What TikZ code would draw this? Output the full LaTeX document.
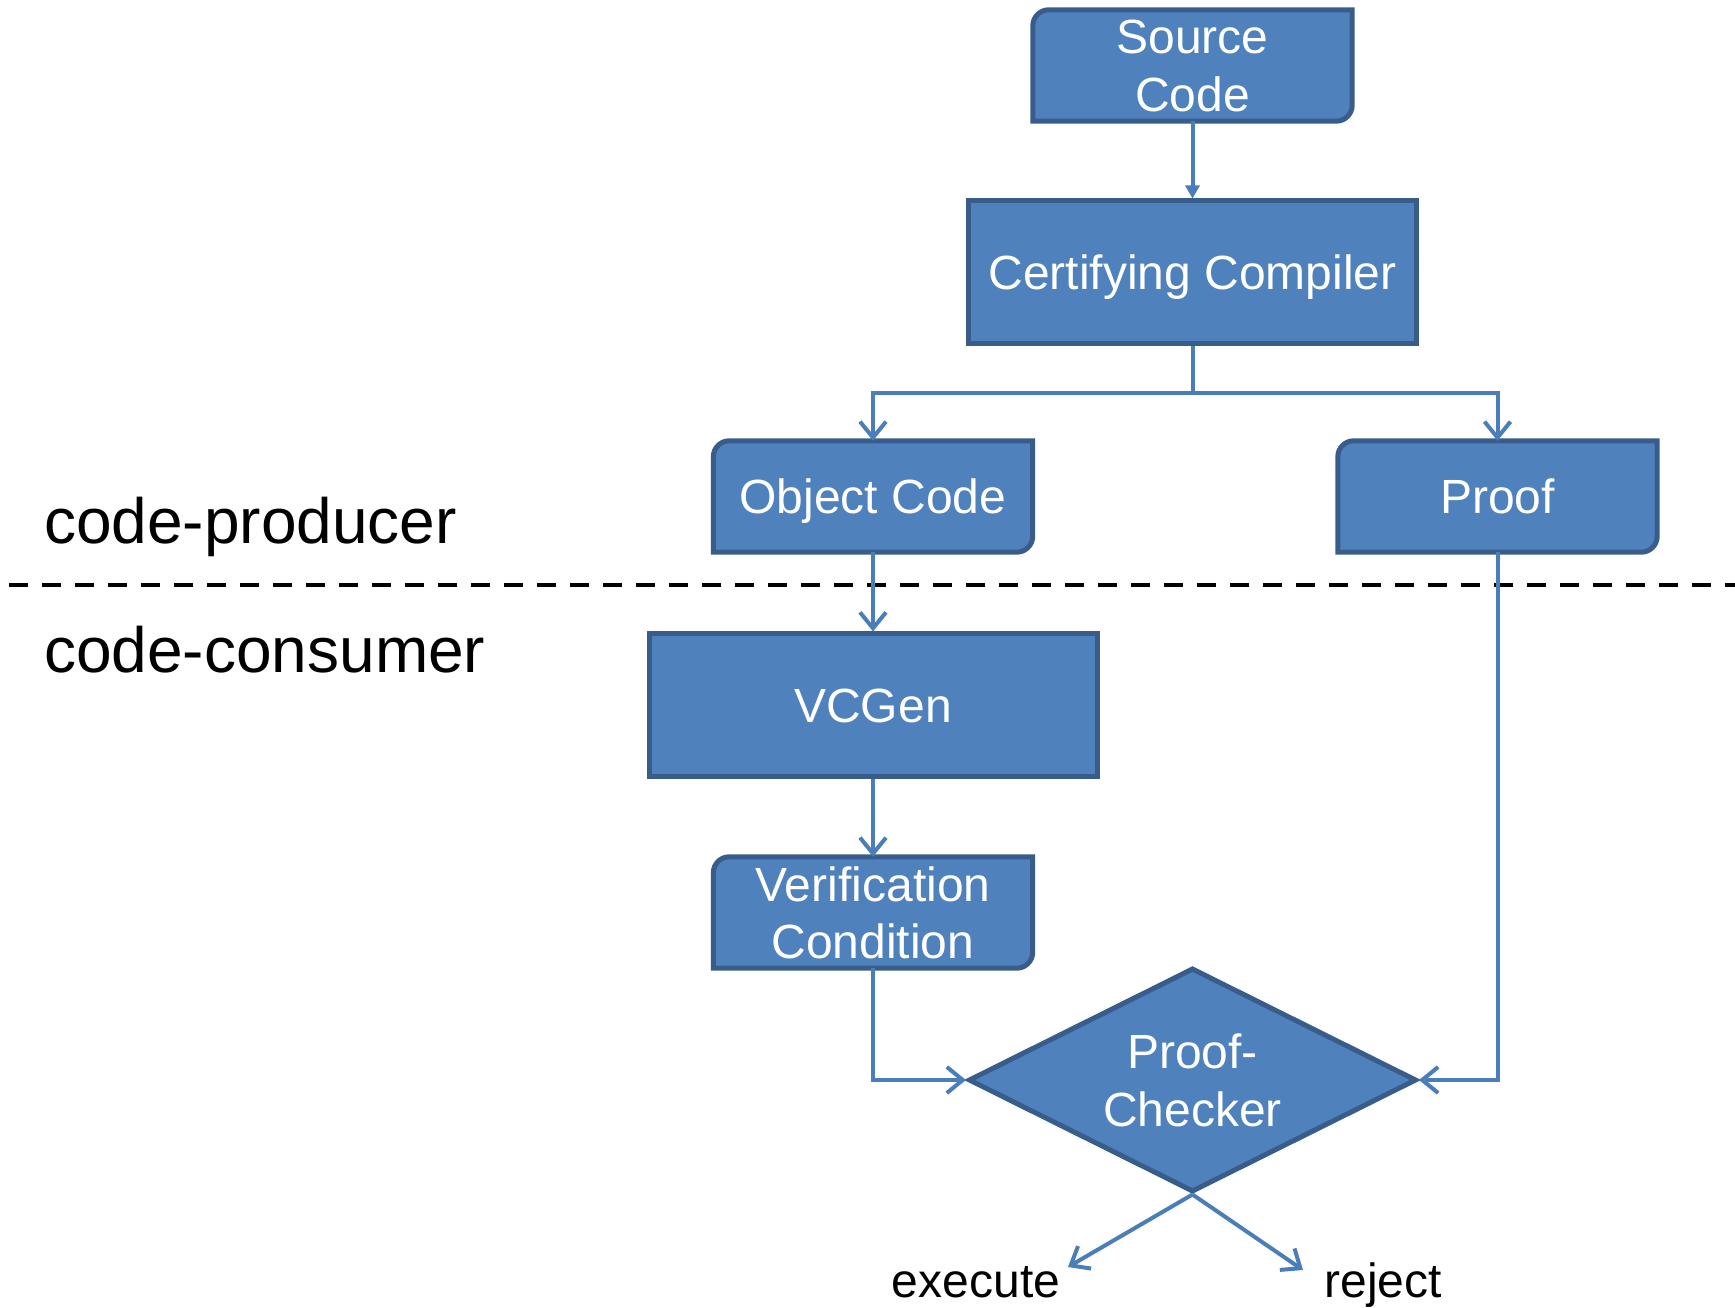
\documentclass[tikz,border=0pt]{standalone}
\usepackage{fontspec}
\setmainfont{Liberation Sans}
\usetikzlibrary{arrows.meta,shapes.geometric,calc}

\pgfdeclarelayer{shapes}
\pgfsetlayers{shapes,main}

\definecolor{boxfill}{HTML}{4F81BD}
\definecolor{boxedge}{HTML}{385D8A}
\definecolor{flow}{HTML}{4A7EBB}

\tikzset{
  boxtext/.style={font=\fontsize{48}{57.6}\selectfont, text=white, align=center,
                  inner sep=0pt, text depth=0pt},
  docbox/.style={boxtext, minimum width=319pt, minimum height=111pt},
  procbox/.style={boxtext, draw=boxedge, fill=boxfill, line width=5pt,
                  minimum width=448pt, minimum height=143pt},
  decision/.style={boxtext, diamond, shape aspect=2, draw=boxedge, fill=boxfill,
                   line width=5pt, minimum width=448pt, minimum height=224pt},
  flowline/.style={draw=flow, line width=4pt, -{Straight Barb[length=16pt,width=26pt]}},
  feedline/.style={draw=flow, line width=4pt, -{Triangle[length=13pt,width=14pt]}},
  sidelabel/.style={font=\fontsize{64}{76}\selectfont, inner sep=0pt},
  outlabel/.style={font=\fontsize{48}{57.6}\selectfont, inner sep=0pt},
}

% document-style frame: rounded top-left and bottom-right corners
\newcommand\docframe[1]{%
  \begin{pgfonlayer}{shapes}
    \filldraw[fill=boxfill, draw=boxedge, line width=5pt]
      (#1.south west) -- ([yshift=-16pt]#1.north west)
      arc[start angle=180, end angle=90, radius=16pt]
      -- (#1.north east) -- ([yshift=16pt]#1.south east)
      arc[start angle=0, end angle=-90, radius=16pt] -- cycle;
  \end{pgfonlayer}}

\begin{document}
\begin{tikzpicture}[x=1pt, y=1pt]
  \useasboundingbox (0,0) rectangle (1735,1307);

  % producer / consumer boundary
  \coordinate (sepL) at (9,722);
  \coordinate (sepR) at (1735,722);
  \draw[black, line width=4pt, dash pattern=on 19pt off 14pt] (sepL) -- (sepR);

  \node[sidelabel, anchor=base west] (prod) at (44,763) {code-producer};
  \node[sidelabel, anchor=base west] (cons) at (44,634) {code-consumer};

  % producer side
  \node[docbox] (src) at (1192.5,1241.5) {Source\\Code};
  \docframe{src}
  \node[procbox] (comp) at (1192.5,1034.5) {Certifying Compiler};
  \node[docbox] (obj) at (873,810.5) {Object Code};
  \docframe{obj}
  \node[docbox] (proof) at (1497.5,810.5) {Proof};
  \docframe{proof}

  % consumer side
  \node[procbox] (vcgen) at (873,601.5) {VCGen};
  \node[docbox] (vc) at (873,394.5) {Verification\\Condition};
  \docframe{vc}
  \node[decision] (pc) at (1192.5,227) {Proof-\\Checker};

  \node[outlabel, anchor=base] (exec) at (976,10) {execute};
  \node[outlabel, anchor=base] (rej) at (1383,10) {reject};

  % connectors
  \coordinate (split) at (1192.5,914);
  \coordinate (execTip) at (1068,40);
  \coordinate (rejTip) at (1303,37);

  \draw[feedline] (src.south) -- (comp.north);
  \draw[flowline] (comp.south) -- (split) -| (obj.north);
  \draw[flowline] (split) -| (proof.north);
  \draw[flowline] (obj.south) -- (vcgen.north);
  \draw[flowline] (vcgen.south) -- (vc.north);
  \draw[flowline] (vc.south) |- (pc.west);
  \draw[flowline] (proof.south) |- (pc.east);
  \draw[flowline] (pc.south) -- (execTip);
  \draw[flowline] (pc.south) -- (rejTip);
\end{tikzpicture}
\end{document}
